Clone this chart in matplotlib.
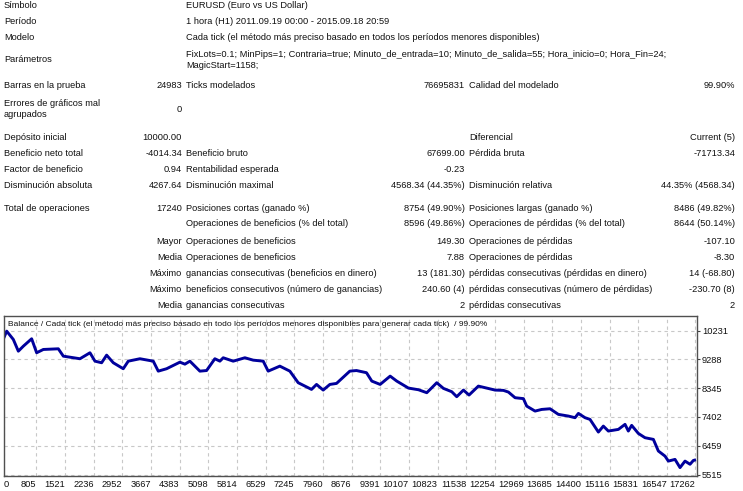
import matplotlib
matplotlib.use("Agg")
import matplotlib.pyplot as plt

plt.rcParams['font.family'] = ['Liberation Sans', 'DejaVu Sans']

W, H = 743, 491
FS = 6.7

# ---- header block ----
header_labels = ["Símbolo", "Período", "Modelo", "Parámetros"]
header_values = [
    "EURUSD (Euro vs US Dollar)",
    "1 hora (H1) 2011.09.19 00:00 - 2015.09.18 20:59",
    "Cada tick (el método más preciso basado en todos los períodos menores disponibles)",
    "FixLots=0.1; MinPips=1; Contraria=true; Minuto_de_entrada=10; Minuto_de_salida=55; Hora_inicio=0; Hora_Fin=24;\nMagicStart=1158;",
]

# ---- report table (label1, value1, label2, value2, label3, value3) ----
col1_labels = ["Barras en la prueba", "Errores de gráficos mal\nagrupados", "Depósito inicial",
               "Beneficio neto total", "Factor de beneficio", "Disminución absoluta",
               "Total de operaciones", "", "", "", "", "", ""]
col1_values = ["24983", "0", "10000.00", "-4014.34", "0.94", "4267.64", "17240", "",
               "Mayor", "Media", "Máximo", "Máximo", "Media"]
col2_labels = ["Ticks modelados", "", "", "Beneficio bruto", "Rentabilidad esperada",
               "Disminución maximal", "Posiciones cortas (ganado %)",
               "Operaciones de beneficios (% del total)", "Operaciones de beneficios",
               "Operaciones de beneficios", "ganancias consecutivas (beneficios en dinero)",
               "beneficios consecutivos (número de ganancias)", "ganancias consecutivas"]
col2_values = ["76695831", "", "", "67699.00", "-0.23", "4568.34 (44.35%)", "8754 (49.90%)",
               "8596 (49.86%)", "149.30", "7.88", "13 (181.30)", "240.60 (4)", "2"]
col3_labels = ["Calidad del modelado", "", "Diferencial", "Pérdida bruta", "",
               "Disminución relativa", "Posiciones largas (ganado %)",
               "Operaciones de pérdidas (% del total)", "Operaciones de pérdidas",
               "Operaciones de pérdidas", "pérdidas consecutivas (pérdidas en dinero)",
               "pérdidas consecutivas (número de pérdidas)", "pérdidas consecutivas"]
col3_values = ["99.90%", "", "Current (5)", "-71713.34", "", "44.35% (4568.34)", "8486 (49.82%)",
               "8644 (50.14%)", "-107.10", "-8.30", "14 (-68.80)", "-230.70 (8)", "2"]

# ---- balance curve (trade number, balance) ----
trades = [0, 67, 233, 358, 483, 690, 815, 982, 1356, 1481, 1896, 2146, 2271, 2437, 2562,
          2728, 2977, 3102, 3393, 3726, 3851, 4059, 4391, 4516, 4641, 4890, 5057, 5264,
          5389, 5473, 5722, 6013, 6221, 6471, 6595, 6886, 7136, 7344, 7677, 7802, 7968,
          8135, 8301, 8633, 8799, 9049, 9182, 9390, 9640, 9805, 10097, 10346, 10554,
          10679, 10803, 10970, 11178, 11302, 11469, 11609, 11842, 12051, 12258, 12467,
          12592, 12758, 12966, 13049, 13257, 13423, 13631, 13839, 14089, 14255, 14339,
          14505, 14629, 14838, 14962, 15087, 15337, 15503, 15586, 15669, 15836, 16002,
          16211, 16335, 16502, 16585, 16751, 16876, 17001, 17126, 17209, 17240]
balance = [10000, 10210, 9937, 9554, 9718, 9960, 9502, 9610, 9632, 9391, 9306, 9502, 9227,
           9175, 9424, 9175, 8979, 9227, 9306, 9227, 8900, 8979, 9194, 9129, 9227, 8900,
           8920, 9306, 9227, 9338, 9227, 9338, 9260, 9227, 8900, 9064, 8900, 8521, 8302,
           8465, 8280, 8465, 8498, 8900, 8920, 8849, 8574, 8465, 8737, 8574, 8345, 8291,
           8194, 8356, 8521, 8335, 8226, 8063, 8280, 8117, 8410, 8345, 8280, 8270, 8215,
           8030, 8000, 7755, 7592, 7646, 7668, 7484, 7429, 7375, 7516, 7375, 7320, 6905,
           7100, 6938, 6992, 7157, 6938, 7124, 6860, 6720, 6665, 6285, 6117, 5954, 6010,
           5741, 5954, 5850, 5975, 5986]

x_ticks = [0, 805, 1521, 2236, 2952, 3667, 4383, 5098, 5814, 6529, 7245, 7960, 8676, 9391,
           10107, 10823, 11538, 12254, 12969, 13685, 14400, 15116, 15831, 16547, 17262]
y_ticks = [5515, 6459, 7402, 8345, 9288, 10231]
chart_title = ("Balance / Cada tick (el método más preciso basado en todo los períodos menores "
               "disponibles para generar cada tick)  / 99.90%")

fig = plt.figure(figsize=(W / 100, H / 100), dpi=100)
fig.patch.set_facecolor('white')
TXT = '#111111'


def put(x, y, s, ha='left'):
    if s:
        fig.text(x / W, 1 - y / H, s, ha=ha, va='center', fontsize=FS, color=TXT,
                 linespacing=1.25)


header_y = [6, 21, 37, 60]
for lab, val, y in zip(header_labels, header_values, header_y):
    put(4, y, lab)
    put(186, y, val)

row_y = [86, 109, 137, 153, 169, 185, 208, 224, 241, 257, 273, 289, 305]
for i, y in enumerate(row_y):
    put(4, y, col1_labels[i])
    put(182, y, col1_values[i], ha='right')
    put(186, y, col2_labels[i])
    put(465, y, col2_values[i], ha='right')
    put(469, y, col3_labels[i])
    put(735, y, col3_values[i], ha='right')

# ---- chart ----
ax = fig.add_axes([4 / W, 1 - 476 / H, 693 / W, 160 / H])
ax.plot(trades, balance, color='#00009c', lw=2.1, solid_joinstyle='round')
ax.set_xlim(0, 17300)
ax.set_ylim(5466, 10706)
ax.set_xticks(x_ticks)
ax.set_xticklabels([str(v) for v in x_ticks], fontsize=FS, color=TXT)
for i, t in enumerate(ax.get_xticklabels()):
    t.set_ha('left' if i == 0 else 'right')
ax.set_yticks(y_ticks)
ax.set_yticklabels([str(v) for v in y_ticks], fontsize=FS, color=TXT)
ax.yaxis.tick_right()
ax.tick_params(axis='y', length=2, width=0.8, pad=1.5, color='#404040')
ax.tick_params(axis='x', length=0, pad=3)
ax.grid(True, color='#c8c8c8', linestyle=(0, (3, 3)), linewidth=0.8)
for sp in ax.spines.values():
    sp.set_color('#505050')
    sp.set_linewidth(1.0)
ax.text(4 / 693, 1 - 8 / 160, chart_title, transform=ax.transAxes, ha='left', va='center',
        fontsize=6.0, color=TXT)

fig.savefig('out.png', dpi=100, facecolor='white')
